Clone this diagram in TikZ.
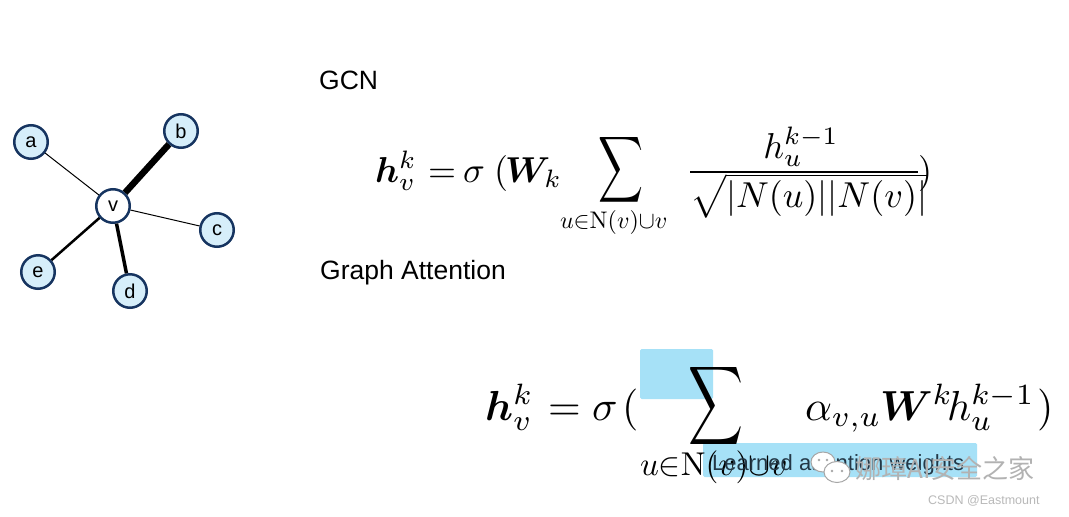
\documentclass[tikz,border=0pt]{standalone}
\usepackage{fontspec}
\usepackage{amsmath,bm,graphicx}
\newfontfamily\arial{Liberation Sans}
\newfontfamily\cjk{Noto Sans CJK SC}
\definecolor{navy}{RGB}{22,52,96}
\definecolor{lblue}{RGB}{214,238,250}
\definecolor{hl}{RGB}{166,225,247}
\definecolor{hltext}{RGB}{35,55,70}
\newcommand{\gcnm}[1]{\scalebox{3.6}{$#1$}}
\newcommand{\gatm}[1]{\scalebox{4.2}{$#1$}}
\tikzset{
  vtx/.style={circle, draw=navy, line width=2.5pt, fill=lblue, minimum size=33.5pt, inner sep=0pt,
    font=\arial\fontsize{20}{20}\selectfont},
  ctr/.style={vtx, fill=white},
  edge/.style={draw=black},
  lbl/.style={anchor=base west, inner sep=0pt, font=\arial\fontsize{26.5}{30}\selectfont},
  mth/.style={anchor=base west, inner sep=0pt, outer sep=0pt},
  sumbox/.style={inner sep=0pt, outer sep=0pt},
  hlbox/.style={fill=hl, draw=none, rounded corners=1.5pt}
}
\begin{document}
\begin{tikzpicture}[x=1pt,y=-1pt]
\useasboundingbox (0,0) rectangle (1069,517);
\fill[white] (0,0) rectangle (1069,517);

% graph
\node[vtx] (a) at (31,142) {a};
\node[vtx] (b) at (181,131) {b};
\node[ctr] (v) at (113,206) {v};
\node[vtx] (c) at (217,230) {c};
\node[vtx] (e) at (38,272) {e};
\node[vtx] (d) at (130,291) {d};
\draw[edge, line width=1pt] (v) -- (a);
\draw[edge, line width=6.5pt] (v) -- (b);
\draw[edge, line width=1pt] (v) -- (c);
\draw[edge, line width=2.5pt] (v) -- (e);
\draw[edge, line width=3.5pt] (v) -- (d);

% labels
\node[lbl] (gcn) at (319,89) {GCN};
\node[lbl] (gat) at (320,279) {Graph Attention};

% GCN formula
\node[mth] (g1) at (375,182) {\gcnm{\bm{h}_v^k}};
\node[mth] (g2) at (428,182) {\gcnm{=}};
\node[mth] (g3) at (463,182) {\gcnm{\sigma}};
\node[mth] (g4) at (494,182) {\gcnm{(}};
\node[mth] (g5) at (505,182) {\gcnm{\bm{W}_k}};
\node[sumbox] (g6) at (620.5,170) {\resizebox*{45pt}{74pt}{$\displaystyle\sum$}};
\node[mth] (g7) at (560,228) {\scalebox{2.4}{$u{\in}\mathrm{N}(v){\cup}v$}};
\node[anchor=base, inner sep=0pt] (g8) at (801,158) {\gcnm{h_u^{k-1}}};
\draw[line width=1.5pt] (690,172) -- (918,172);
\node[mth] (g9) at (690,207) {\gcnm{\sqrt{|N(u)||N(v)|}}};
\node[mth] (g10) at (918,182) {\gcnm{)}};

% GAT formula
\fill[hlbox] (640,349) rectangle (713,399);
\fill[hlbox] (703,443) rectangle (977,477);
\node[mth] (a1) at (485,420) {\gatm{\bm{h}_v^k}};
\node[mth] (a2) at (548,420) {\gatm{=}};
\node[mth] (a3) at (592,420) {\gatm{\sigma}};
\node[mth] (a4) at (622,420) {\gatm{(}};
\node[sumbox] (a5) at (715.5,406) {\resizebox*{55pt}{88pt}{$\displaystyle\sum$}};
\node[mth] (a6) at (640,475) {\scalebox{3.3}{$u{\in}\mathrm{N}(v){\cup}v$}};
\node[mth] (a7) at (805,420) {\gatm{\alpha_{v,u}}};
\node[mth] (a8) at (880,420) {\gatm{\bm{W}^k}};
\node[mth] (a9) at (947,420) {\gatm{h_u^{k-1}}};
\node[mth] (a10) at (1037,420) {\gatm{)}};
\node[anchor=base west, inner sep=0pt, text=hltext, font=\arial\fontsize{22}{24}\selectfont] (law) at (712,470) {Learned attention weights};

% watermark
\draw[gray!70, fill=white, line width=1pt] (823,462) ellipse (12 and 10);
\fill[gray!70] (819,460) circle (1.3) (827,460) circle (1.3);
\draw[gray!70, fill=white, line width=1pt] (837,472) ellipse (13 and 10.5);
\fill[gray!70] (832,471) circle (1.3) (842,471) circle (1.3);
\node[anchor=base west, inner sep=0pt, text=gray!60, font=\cjk\fontsize{26}{28}\selectfont] (wm) at (855,478) {娜璋AI安全之家};
\node[anchor=base west, inner sep=0pt, text=gray!55, font=\arial\fontsize{12.5}{14}\selectfont] (csdn) at (928,504) {CSDN @Eastmount};
\end{tikzpicture}
\end{document}
